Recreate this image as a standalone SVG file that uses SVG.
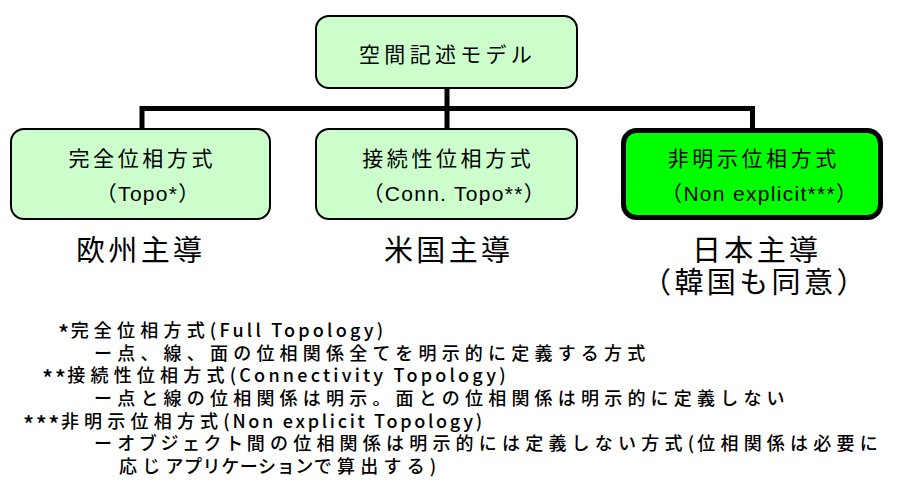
<svg xmlns="http://www.w3.org/2000/svg" width="901" height="501" viewBox="0 0 901 501">
<style>
.box{fill:#CCFFCC;stroke:#000;stroke-width:2}
.boxh{fill:#00FF00;stroke:#000;stroke-width:5}
.lbl{font-family:"Liberation Sans","Noto Sans CJK JP",sans-serif;font-size:21px;text-anchor:middle;fill:#000}
.cj{letter-spacing:3.6px}
.la{letter-spacing:1.3px}
.big{font-family:"Noto Sans CJK JP",sans-serif;font-size:29px;text-anchor:middle;letter-spacing:3.4px;fill:#000}
.note{font-family:"Noto Sans CJK JP",sans-serif;font-size:18px;font-weight:500;letter-spacing:5.2px;fill:#000}
.nl{letter-spacing:3.2px}
.ast{font-size:23px;letter-spacing:1.5px}
.conn{fill:none;stroke:#000;stroke-width:5;stroke-linejoin:miter}
</style>
<rect width="901" height="501" fill="#fff"/>
<g id="connectors">
<path class="conn" d="M142,128 V108.5 H752.5 V128"/>
<path class="conn" d="M447,89 V128"/>
</g>
<g id="root">
<rect class="box" x="316" y="16" width="261" height="72" rx="13"/>
<text class="lbl" x="447.6" y="61.5" style="letter-spacing:4.3px">空間記述モデル</text>
</g>
<g id="full">
<rect class="box" x="11" y="129" width="259" height="90" rx="13"/>
<text class="lbl cj" x="142.3" y="165.5">完全位相方式</text>
<text class="lbl la" x="148.2" y="201">（Topo*）</text>
</g>
<g id="conn-topo">
<rect class="box" x="316" y="129" width="261" height="90" rx="13"/>
<text class="lbl cj" x="448.3" y="165.5">接続性位相方式</text>
<text class="lbl la" x="454.2" y="201">（Conn. Topo**）</text>
</g>
<g id="non-explicit">
<rect class="boxh" x="623.5" y="130.5" width="257" height="87" rx="13"/>
<text class="lbl cj" x="753.8" y="165.5">非明示位相方式</text>
<text class="lbl la" x="759.7" y="201">（Non explicit***）</text>
</g>
<g id="leaders">
<text class="big" x="140.7" y="261">欧州主導</text>
<text class="big" x="448.7" y="261">米国主導</text>
<text class="big" x="756.7" y="261">日本主導</text>
<text class="big" x="755.4" y="293">（韓国も同意）</text>
</g>
<g id="notes">
<text class="note" x="58" y="337"><tspan class="ast" dy="5">*</tspan><tspan dy="-5">完全位相方式</tspan><tspan class="nl">(Full Topology)</tspan></text>
<text class="note" x="94" y="359.5">ー点、線、面の位相関係全てを明示的に定義する方式</text>
<text class="note" x="42" y="382"><tspan class="ast" dy="5">**</tspan><tspan dy="-5">接続性位相方式</tspan><tspan class="nl">(Connectivity Topology)</tspan></text>
<text class="note" x="94" y="405">ー点と線の位相関係は明示。面との位相関係は明示的に定義しない</text>
<text class="note" x="23" y="427.5"><tspan class="ast" dy="5">***</tspan><tspan dy="-5">非明示位相方式</tspan><tspan class="nl" style="letter-spacing:2.7px">(Non explicit Topology)</tspan></text>
<text class="note" x="94" y="450">ー<tspan style="letter-spacing:3.6px">オブジェクト</tspan>間の位相関係は明示的には定義しない方式<tspan class="nl">(</tspan>位相関係は必要に</text>
<text class="note" x="119" y="473">応じ<tspan style="letter-spacing:0.6px">アプリケーション</tspan>で算出する<tspan class="nl">)</tspan></text>
</g>
</svg>
